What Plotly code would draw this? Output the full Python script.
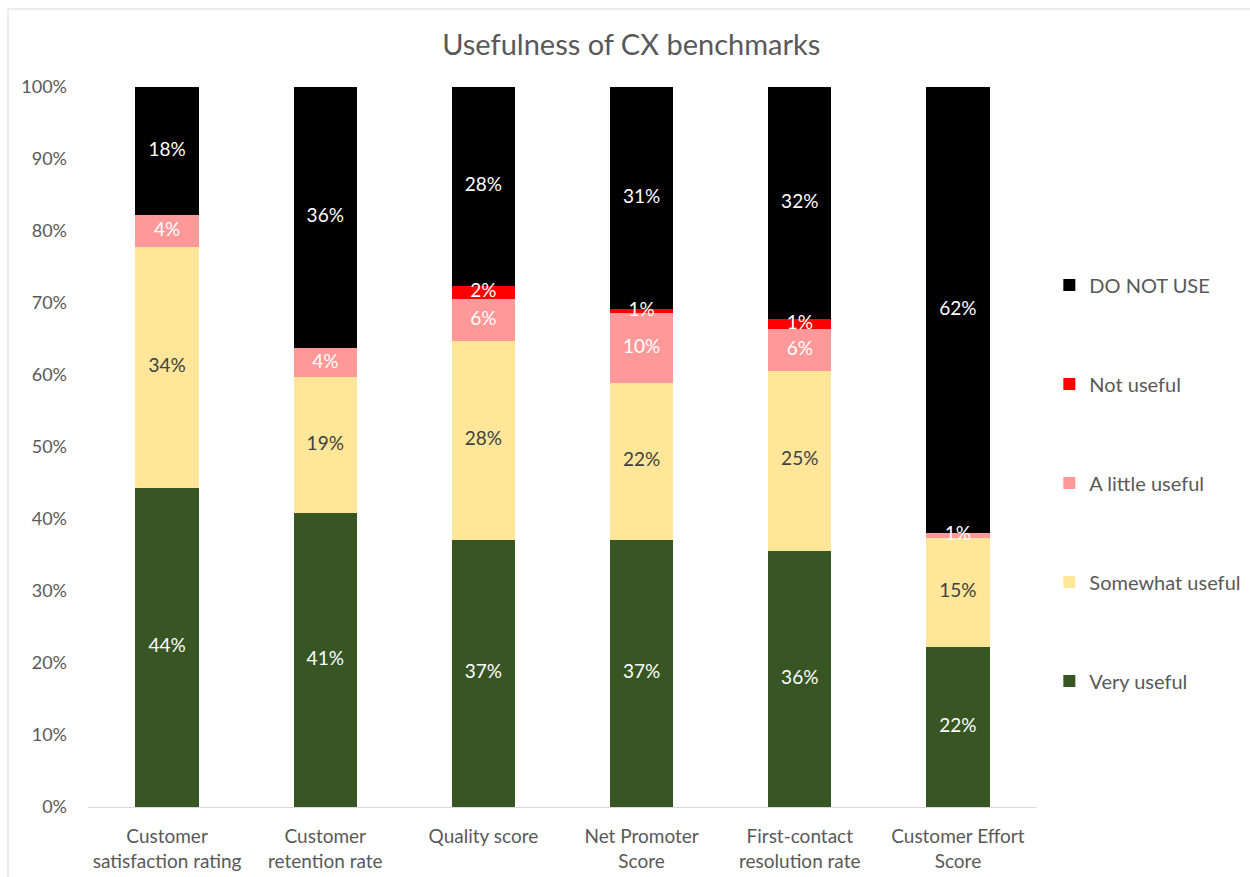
import plotly.graph_objects as go

# Survey categories (x axis)
categories = [
    "Customer<br>satisfaction rating",
    "Customer<br>retention rate",
    "Quality score",
    "Net Promoter<br>Score",
    "First-contact<br>resolution rate",
    "Customer Effort<br>Score",
]

# Share of respondents per answer, stacked bottom to top
very_useful = [0.443, 0.408, 0.371, 0.371, 0.356, 0.222]
somewhat_useful = [0.335, 0.189, 0.276, 0.218, 0.250, 0.152]
a_little_useful = [0.044, 0.040, 0.058, 0.097, 0.058, 0.006]
not_useful = [0.000, 0.000, 0.019, 0.006, 0.014, 0.000]
do_not_use = [0.178, 0.363, 0.276, 0.308, 0.322, 0.620]

series = [
    ("Very useful", very_useful, "#375623", "white"),
    ("Somewhat useful", somewhat_useful, "#FFE699", "#404040"),
    ("A little useful", a_little_useful, "#FF9999", "white"),
    ("Not useful", not_useful, "#FF0000", "white"),
    ("DO NOT USE", do_not_use, "#000000", "white"),
]

FONT = "Lato"
GREY = "#595959"

fig = go.Figure()
n = len(series)
for i, (name, vals, color, _) in enumerate(series):
    fig.add_trace(go.Bar(
        name=name,
        x=categories,
        y=vals,
        marker=dict(color=color, line=dict(width=0)),
        legendgroup=name,
        legendrank=n - i,
        hoverinfo="skip",
    ))

# Segment labels drawn on top of all bars so small slices stay readable
base = [0.0] * len(categories)
for name, vals, _, txtcolor in series:
    mids = [b + v / 2 for b, v in zip(base, vals)]
    fig.add_trace(go.Scatter(
        x=categories,
        y=mids,
        mode="text",
        text=[f"{v:.0%}" if v > 0 else "" for v in vals],
        textposition="middle center",
        textfont=dict(family=FONT, size=19, color=txtcolor),
        showlegend=False,
        hoverinfo="skip",
        cliponaxis=False,
    ))
    base = [b + v for b, v in zip(base, vals)]

fig.update_layout(
    barmode="stack",
    bargap=0.6,
    width=1250,
    height=877,
    margin=dict(l=88, r=213, t=87, b=70, autoexpand=False),
    paper_bgcolor="white",
    plot_bgcolor="white",
    font=dict(family=FONT, color=GREY, size=18),
    title=dict(
        text="Usefulness of CX benchmarks",
        x=0.505, xanchor="center",
        y=1 - 45 / 877, yanchor="middle",
        font=dict(family=FONT, size=29, color=GREY),
    ),
    legend=dict(
        traceorder="grouped",
        tracegroupgap=70,
        x=1.013, xanchor="left",
        y=0.45, yanchor="middle",
        font=dict(family=FONT, size=20, color=GREY),
        itemclick=False,
    ),
    yaxis=dict(
        range=[0, 1],
        tickvals=[i / 10 for i in range(11)],
        tickformat=".0%",
        showgrid=False,
        zeroline=False,
        showline=False,
        ticks="",
        automargin=False,
        ticklabelstandoff=20,
        tickfont=dict(family=FONT, size=18, color=GREY),
    ),
    xaxis=dict(
        showline=True,
        linecolor="#D9D9D9",
        linewidth=1,
        ticks="",
        showgrid=False,
        automargin=False,
        ticklabelstandoff=12,
        tickfont=dict(family=FONT, size=19, color=GREY),
    ),
    shapes=[dict(
        type="rect", xref="paper", yref="paper",
        x0=-80 / 949, x1=1240 / 949, y0=-75 / 720, y1=1 + 78 / 720,
        line=dict(color="#D9D9D9", width=1), layer="below",
    )],
)

fig.write_html("out.html")
